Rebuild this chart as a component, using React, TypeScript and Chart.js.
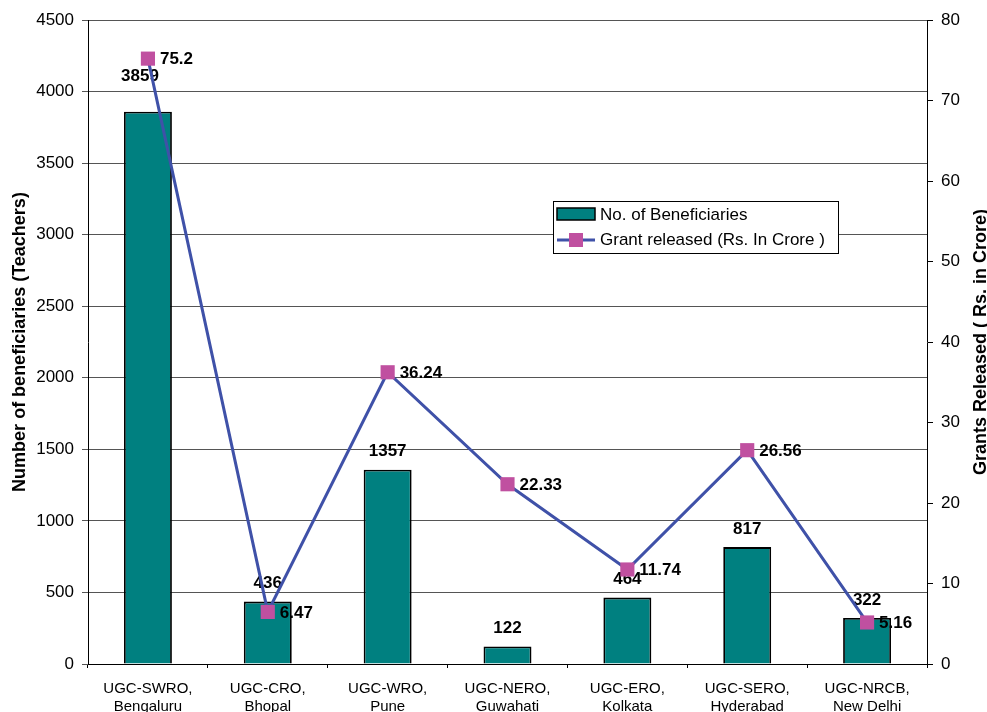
import { useEffect, useRef } from 'react';
import { Chart, registerables } from 'chart.js';

Chart.register(...registerables);

const categories: string[][] = [
  ['UGC-SWRO,', 'Bengaluru'],
  ['UGC-CRO,', 'Bhopal'],
  ['UGC-WRO,', 'Pune'],
  ['UGC-NERO,', 'Guwahati'],
  ['UGC-ERO,', 'Kolkata'],
  ['UGC-SERO,', 'Hyderabad'],
  ['UGC-NRCB,', 'New Delhi'],
];
const beneficiaries = [3859, 436, 1357, 122, 464, 817, 322];
const grants = [75.2, 6.47, 36.24, 22.33, 11.74, 26.56, 5.16];
const grantLabels = ['75.2', '6.47', '36.24', '22.33', '11.74', '26.56', '5.16'];
const barSeriesName = 'No. of Beneficiaries';
const lineSeriesName = 'Grant released (Rs. In Crore )';
const leftTitle = 'Number of beneficiaries (Teachers)';
const rightTitle = 'Grants Released ( Rs. in Crore)';

const FONT = '"Liberation Sans", Arial, Helvetica, sans-serif';
const TEAL = '#008080';
const BLUE = '#3F51A8';
const PINK = '#C050A0';

// small label nudges (first bar label sits higher and left in the original)
const barLabelNudge: number[][] = [[-8, -17], [0, 0], [0, 0], [0, 0], [0, 0], [0, 0], [0, 0]];

const extrasPlugin = {
  id: 'extras',
  beforeDatasetsDraw(chart: any) {
    const ctx = chart.ctx;
    const meta = chart.getDatasetMeta(0);
    ctx.save();
    ctx.font = `bold 17px ${FONT}`;
    ctx.fillStyle = '#000';
    ctx.textAlign = 'center';
    ctx.textBaseline = 'middle';
    meta.data.forEach((el: any, i: number) => {
      const n = barLabelNudge[i] || [0, 0];
      ctx.fillText(String(beneficiaries[i]), el.x + n[0], el.y - 18 + n[1]);
    });
    ctx.restore();
  },
  afterDatasetsDraw(chart: any) {
    const ctx = chart.ctx;
    const meta = chart.getDatasetMeta(1);
    ctx.save();
    ctx.font = `bold 17px ${FONT}`;
    ctx.fillStyle = '#000';
    ctx.textAlign = 'left';
    ctx.textBaseline = 'middle';
    meta.data.forEach((el: any, i: number) => {
      ctx.fillText(grantLabels[i], el.x + 12, el.y + 1);
    });
    ctx.restore();
  },
  afterDraw(chart: any) {
    const ctx = chart.ctx;
    const area = chart.chartArea;
    const midY = (area.top + area.bottom) / 2;
    ctx.save();
    // axis titles
    ctx.font = `bold 18px ${FONT}`;
    ctx.fillStyle = '#000';
    ctx.textAlign = 'center';
    ctx.textBaseline = 'middle';
    ctx.save();
    ctx.translate(20, midY);
    ctx.rotate(-Math.PI / 2);
    ctx.fillText(leftTitle, 0, 0);
    ctx.restore();
    ctx.save();
    ctx.translate(981, midY);
    ctx.rotate(-Math.PI / 2);
    ctx.fillText(rightTitle, 0, 0);
    ctx.restore();

    // legend
    const lx = 553, ly = 201, lw = 285, lh = 52;
    ctx.fillStyle = '#fff';
    ctx.fillRect(lx, ly, lw, lh);
    ctx.strokeStyle = '#000';
    ctx.lineWidth = 1;
    ctx.strokeRect(lx + 0.5, ly + 0.5, lw, lh);
    ctx.fillStyle = TEAL;
    ctx.fillRect(557, 208, 38, 12);
    ctx.lineWidth = 1.5;
    ctx.strokeRect(557, 208, 38, 12);
    ctx.strokeStyle = BLUE;
    ctx.lineWidth = 3;
    ctx.beginPath();
    ctx.moveTo(557, 240);
    ctx.lineTo(595, 240);
    ctx.stroke();
    ctx.fillStyle = PINK;
    ctx.fillRect(569, 233, 14, 14);
    ctx.fillStyle = '#000';
    ctx.font = `17px ${FONT}`;
    ctx.textAlign = 'left';
    ctx.textBaseline = 'middle';
    ctx.fillText(barSeriesName, 600, 215);
    ctx.fillText(lineSeriesName, 600, 240);
    ctx.restore();
  },
};

export default function App() {
  const ref = useRef<HTMLCanvasElement | null>(null);
  useEffect(() => {
    if (!ref.current) return;
    const chart = new Chart(ref.current, {
      type: 'bar',
      data: {
        labels: categories,
        datasets: [
          {
            type: 'bar',
            label: barSeriesName,
            data: beneficiaries,
            backgroundColor: TEAL,
            borderColor: '#000',
            borderWidth: 1.8,
            barPercentage: 0.4,
            categoryPercentage: 1,
            yAxisID: 'y',
            order: 2,
          } as any,
          {
            type: 'line',
            label: lineSeriesName,
            data: grants,
            borderColor: BLUE,
            borderWidth: 3,
            pointStyle: 'rect',
            pointRadius: 10,
            pointBackgroundColor: PINK,
            pointBorderColor: PINK,
            pointBorderWidth: 0,
            tension: 0,
            yAxisID: 'y1',
            order: 1,
          } as any,
        ],
      },
      options: {
        responsive: false,
        animation: false,
        layout: { padding: { top: 20, left: 0, right: 0, bottom: 0 } },
        plugins: {
          legend: { display: false },
          tooltip: { enabled: false },
        },
        scales: {
          x: {
            grid: { drawOnChartArea: false, drawTicks: true, tickLength: 4, offset: true, color: '#000' },
            border: { display: true, color: '#000', width: 1 },
            ticks: { font: { family: FONT, size: 15 }, color: '#000', padding: 12, maxRotation: 0, autoSkip: false },
            afterFit: (s: any) => { s.height = 48; },
          },
          y: {
            position: 'left',
            min: 0,
            max: 4500,
            ticks: { stepSize: 500, font: { family: FONT, size: 17 }, color: '#000', padding: 8, callback: (v: any) => String(v) },
            grid: { color: '#555', tickLength: 6, drawTicks: true },
            border: { display: true, color: '#000', width: 1 },
            afterFit: (s: any) => { s.width = 88; },
          },
          y1: {
            position: 'right',
            min: 0,
            max: 80,
            ticks: { stepSize: 10, font: { family: FONT, size: 17 }, color: '#000', padding: 8, callback: (v: any) => String(v) },
            grid: { drawOnChartArea: false, tickLength: 6, color: '#000' },
            border: { display: true, color: '#000', width: 1 },
            afterFit: (s: any) => { s.width = 60; },
          },
        },
      } as any,
      plugins: [extrasPlugin],
    });
    return () => chart.destroy();
  }, []);
  return (
    <div style={{ position: 'absolute', left: 0, top: 0, width: 987, height: 712, background: '#fff' }}>
      <canvas ref={ref} width={987} height={712} style={{ display: 'block' }} />
    </div>
  );
}
